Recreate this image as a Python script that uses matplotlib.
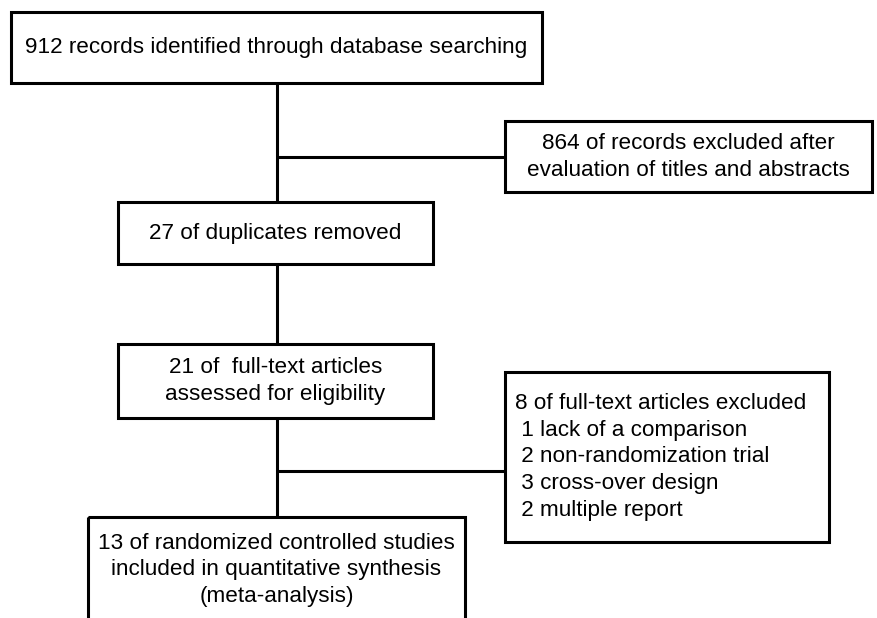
"""
PRISMA-style flow diagram of study selection.
"""

import matplotlib.pyplot as plt
from matplotlib.patches import Rectangle

plt.rcParams['font.family'] = ['Liberation Sans', 'DejaVu Sans']

# Box texts
main_labels = [
    '912 records identified through database searching',
    '27 of duplicates removed',
    '21 of  full-text articles\nassessed for eligibility',
    '13 of randomized controlled studies\nincluded in quantitative synthesis\n(meta-analysis)',
]
side_labels = [
    '864 of records excluded after\nevaluation of titles and abstracts',
    '8 of full-text articles excluded\n 1 lack of a comparison\n 2 non-randomization trial\n 3 cross-over design\n 2 multiple report',
]

# Layout in pixels: (left, top, right, bottom)
main_boxes = [(11, 12, 542, 83), (118, 202, 433, 264), (118, 344, 433, 418), (88, 517, 465, 660)]
side_boxes = [(505, 121, 872, 192), (505, 372, 829, 542)]
spine_x = 277
branch_y = [157, 471]

fig = plt.figure(figsize=(8.78, 6.18), dpi=100)
ax = fig.add_axes([0, 0, 1, 1])
ax.set_xlim(0, 878)
ax.set_ylim(618, 0)
ax.axis('off')

lw = 2.2
fs = 16.2
ls = 1.35

def box(l, t, r, b):
    ax.add_patch(Rectangle((l, t), r - l, b - t, fill=False, edgecolor='black', linewidth=lw, zorder=3))

# main column boxes
text_y = [48, 233, 381, 570]
for (l, t, r, b), label, ty in zip(main_boxes, main_labels, text_y):
    box(l, t, r, b)
    ax.text((l + r) / 2, ty, label, ha='center', va='center', fontsize=fs, linespacing=ls)

# vertical connectors between main boxes
for upper, lower in zip(main_boxes[:-1], main_boxes[1:]):
    ax.plot([spine_x, spine_x], [upper[3], lower[1]], color='black', linewidth=lw, solid_capstyle='butt')

# side exclusion boxes
(l, t, r, b) = side_boxes[0]
box(l, t, r, b)
ax.text((l + r) / 2, 157, side_labels[0], ha='center', va='center', fontsize=fs, linespacing=ls)
(l, t, r, b) = side_boxes[1]
box(l, t, r, b)
ax.text(515, 457, side_labels[1], ha='left', va='center', fontsize=fs, linespacing=ls)

for y, (l, t, r, b) in zip(branch_y, side_boxes):
    ax.plot([spine_x, l], [y, y], color='black', linewidth=lw, solid_capstyle='butt')

plt.savefig('out.png', dpi=100, facecolor='white')
